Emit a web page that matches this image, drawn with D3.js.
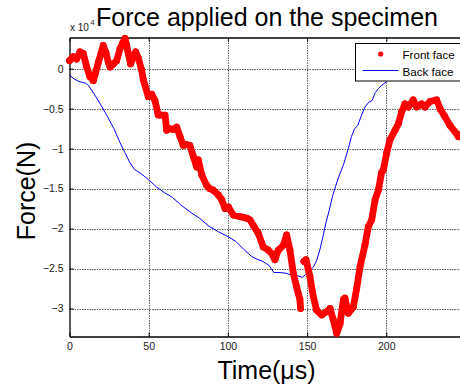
<!DOCTYPE html>
<html>
<head>
<meta charset="utf-8">
<script src="https://cdn.jsdelivr.net/npm/d3@7/dist/d3.min.js"></script>
<style>
  html, body { margin: 0; padding: 0; background: #fff; }
  svg { display: block; font-family: "Liberation Sans", Arial, sans-serif; }
</style>
</head>
<body>
<svg id="chart" width="460" height="385"></svg>
<script>
// ---- data (force in units of 10^4 N) ----
const timeFront = [0,1.5,2.4,4.5,6.6,8.7,10.9,12.9,15,16.5,18.2,20,21.3,23,24.5,25.6,27.7,29.8,31.9,33.5,35,36,37.1,38.6,40.3,41.8,43.5,45.6,46.6,47.7,49.7,51.9,54,56,58.2,60.3,61.4,63,65.5,67.7,69.8,71.8,74,76,78.2,80.3,81.3,83.5,86.6,88.5,90.8,94,96.1,98.2,100.3,103.4,107.6,111.9,113.9,116,119.2,122.3,125.5,127.6,129.7,131.8,135,137.1,139.2,141.3,143.4,144.4,145.5,145.9,147,148,149.3,151.8,153.9,156,159.2,162.4,164.5,166.5,168.7,170.8,172.9,173.9,176,179.2,181.3,183.4,186.6,188.6,190.8,192.9,195,197,198.1,200.2,202.3,205.5,207.6,209.7,211.8,213.9,217,219.2,222.3,224.4,227.6,231.8,233.9,237,240.2,243.4,245.5,247];
const forceFront = [0.1,0.13,0.15,0.12,0.21,0.19,0.02,-0.1,-0.15,-0.05,0.08,0.2,0.29,0.2,0.08,0.02,0.06,0.1,0.25,0.32,0.38,0.3,0.19,0.06,0.15,0.21,0.13,-0.02,-0.14,-0.21,-0.35,-0.32,-0.4,-0.58,-0.58,-0.58,-0.77,-0.75,-0.76,-0.73,-0.85,-0.96,-0.95,-0.96,-1.1,-1.23,-1.14,-1.33,-1.46,-1.5,-1.52,-1.58,-1.64,-1.75,-1.73,-1.83,-1.85,-1.87,-1.89,-1.96,-2.06,-2.23,-2.27,-2.31,-2.39,-2.27,-2.21,-2.08,-2.27,-2.56,-2.73,-2.81,-2.89,-3.0,null,-2.41,-2.39,-2.6,-2.85,-3.02,-3.08,-3.04,-3.0,-3.14,-3.31,-3.19,-2.89,-2.87,-3.06,-2.98,-2.75,-2.48,-2.2,-1.98,-1.89,-1.64,-1.52,-1.3,-1.27,-1.06,-0.89,-0.77,-0.69,-0.54,-0.44,-0.48,-0.39,-0.48,-0.44,-0.48,-0.41,-0.39,-0.5,-0.6,-0.71,-0.79,-0.85,-0.82];
const timeBack = [0,3,6,10,12,16,20,24,28,32,35,38,41,45,50,55,60,65,70,76,82,88,94,100,105,110,115,118,122,126,129,133,137,141,144,147,150,152,154,156,158,160,162,164,166,168,170,173,176,178,180,182,184,186.5,189,191,193,195,197,200,203,207,210];
const forceBack = [-0.08,-0.13,-0.16,-0.18,-0.21,-0.33,-0.46,-0.6,-0.75,-0.93,-1.05,-1.17,-1.26,-1.31,-1.39,-1.48,-1.55,-1.61,-1.7,-1.79,-1.87,-1.97,-2.04,-2.1,-2.16,-2.26,-2.35,-2.38,-2.41,-2.46,-2.55,-2.55,-2.56,-2.59,-2.59,-2.61,-2.56,-2.52,-2.48,-2.4,-2.27,-2.1,-1.92,-1.77,-1.6,-1.47,-1.35,-1.2,-1.0,-0.85,-0.75,-0.71,-0.6,-0.48,-0.42,-0.4,-0.3,-0.25,-0.21,-0.165,-0.1,-0.03,0.0];
const xTicks = [0,50,100,150,200];
const yTicks = [0,-0.5,-1,-1.5,-2,-2.5,-3];
const seriesNames = ["Front face","Back face"];
const titleText = "Force applied on the specimen";
const xLabel = "Time(\u03bcs)";
const yLabel = "Force(N)";

// ---- layout ----
const svg = d3.select("#chart");
const L = 69.5, R = 465.5, T = 37.5, B = 336.5;
const x = d3.scaleLinear().domain([0, 250]).range([L, R]);
const y = d3.scaleLinear().domain([-3.35, 0.39]).range([B, T]);

svg.append("rect").attr("width", 460).attr("height", 385).attr("fill", "#fff");

// grid
const grid = svg.append("g").attr("stroke", "#5e5e5e").attr("stroke-width", 1).attr("stroke-dasharray", "1.5,1");
grid.selectAll("line.v").data(xTicks.filter(d => d > 0)).join("line")
  .attr("x1", d => Math.round(x(d)) + 0.5).attr("x2", d => Math.round(x(d)) + 0.5)
  .attr("y1", T).attr("y2", B);
grid.selectAll("line.h").data(yTicks).join("line")
  .attr("y1", d => Math.round(y(d)) + 0.5).attr("y2", d => Math.round(y(d)) + 0.5)
  .attr("x1", L).attr("x2", R);

// axes
const fmt = d => d3.format("")(d);
const gx = svg.append("g").attr("transform", `translate(0,${B})`)
  .call(d3.axisBottom(x).tickValues(xTicks).tickSize(-4).tickSizeOuter(0).tickPadding(6).tickFormat(fmt));
const gxt = svg.append("g").attr("transform", `translate(0,${T})`)
  .call(d3.axisTop(x).tickValues(xTicks).tickSize(-4).tickSizeOuter(0).tickFormat(""));
const gy = svg.append("g").attr("transform", `translate(${L},0)`)
  .call(d3.axisLeft(y).tickValues(yTicks).tickSize(-4).tickSizeOuter(0).tickPadding(6).tickFormat(fmt));
[gx, gxt, gy].forEach(g => {
  g.selectAll("path.domain").attr("stroke", "#000").attr("stroke-width", 1.3);
  g.selectAll(".tick line").attr("stroke", "#000");
  g.selectAll("text").attr("font-size", "10.5px").attr("fill", "#1a1a1a")
    .attr("font-family", "'Liberation Sans', Arial, sans-serif");
});

// back face (blue line)
const backData = timeBack.map((t, i) => [t, forceBack[i]]);
svg.append("path").datum(backData)
  .attr("fill", "none").attr("stroke", "#0000ff").attr("stroke-width", 1)
  .attr("d", d3.line().x(d => x(d[0])).y(d => y(d[1])));

// front face (red dense dots)
const frontData = timeFront.map((t, i) => [t, forceFront[i]]);
svg.append("path").datum(frontData)
  .attr("fill", "none").attr("stroke", "#ff0000").attr("stroke-width", 6.8)
  .attr("stroke-linejoin", "round").attr("stroke-linecap", "round")
  .attr("d", d3.line().defined(d => d[1] !== null).x(d => x(d[0])).y(d => y(d[1])));
svg.append("g").selectAll("circle").data(frontData.filter(d => d[1] !== null)).join("circle")
  .attr("cx", d => x(d[0])).attr("cy", d => y(d[1])).attr("r", 3.4).attr("fill", "#ff0000");

// legend
const lg = svg.append("g");
lg.append("rect").attr("x", 355.5).attr("y", 43.5).attr("width", 110).attr("height", 37.5)
  .attr("fill", "#fff").attr("stroke", "#000").attr("stroke-width", 1);
lg.append("circle").attr("cx", 380.7).attr("cy", 54).attr("r", 2.6).attr("fill", "#ff0000");
lg.append("line").attr("x1", 362.5).attr("x2", 398.5).attr("y1", 70.5).attr("y2", 70.5)
  .attr("stroke", "#0000ff").attr("stroke-width", 1);
lg.selectAll("text").data(seriesNames).join("text")
  .attr("x", 402.5).attr("y", (d, i) => 58.8 + i * 17)
  .attr("font-size", "11.6px").attr("fill", "#000").text(d => d);

// exponent label
svg.append("text").attr("x", 70).attr("y", 30.5).attr("font-size", "10px").attr("fill", "#1a1a1a").text("x 10");
svg.append("text").attr("x", 90.5).attr("y", 25).attr("font-size", "7.5px").attr("fill", "#1a1a1a").text("4");

// title & labels
svg.append("text").attr("x", 267).attr("y", 25.5).attr("text-anchor", "middle")
  .attr("font-size", "25px").attr("fill", "#000").text(titleText);
svg.append("text").attr("x", 266.5).attr("y", 378.5).attr("text-anchor", "middle")
  .attr("font-size", "25px").attr("fill", "#000").text(xLabel);
svg.append("text").attr("transform", "translate(35,191) rotate(-90)").attr("text-anchor", "middle")
  .attr("font-size", "25px").attr("fill", "#000").text(yLabel);
</script>
</body>
</html>
